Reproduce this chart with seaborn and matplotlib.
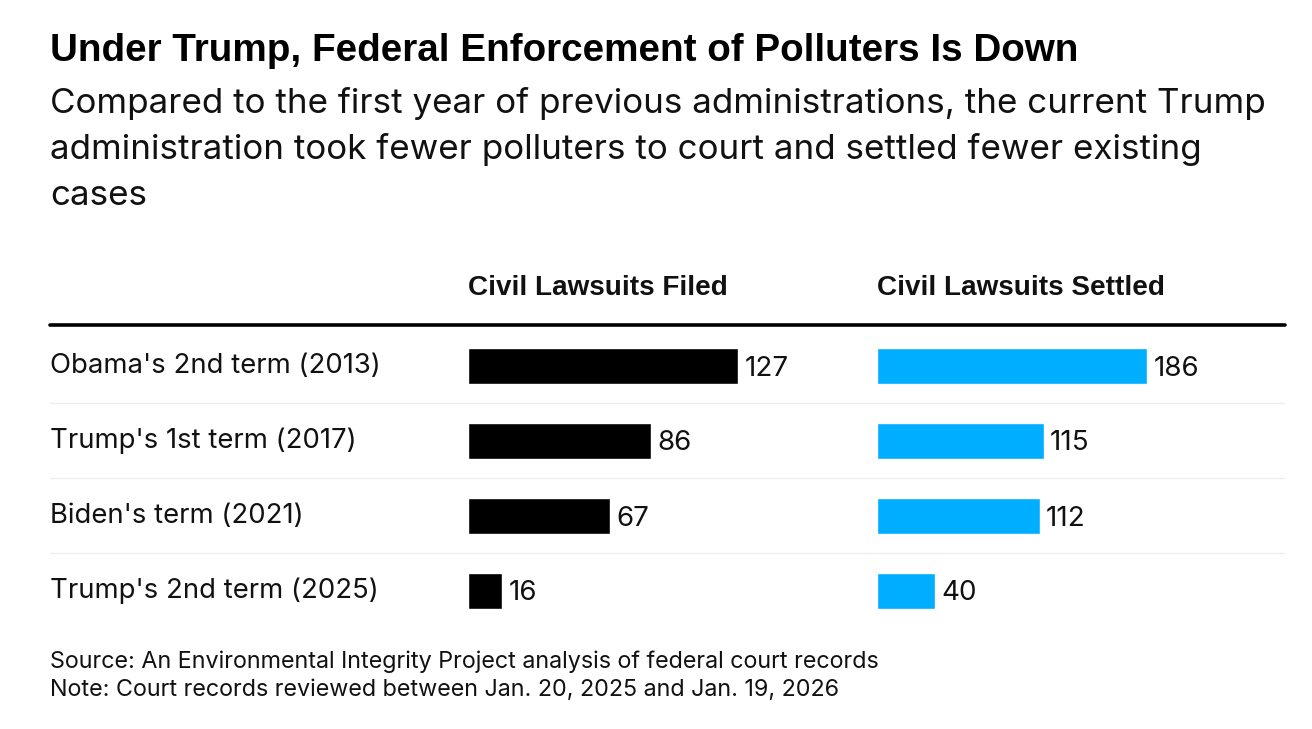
import matplotlib.pyplot as plt
import seaborn as sns
import pandas as pd
from matplotlib.lines import Line2D

# Chart data
terms = ["Obama's 2nd term (2013)", "Trump's 1st term (2017)",
         "Biden's term (2021)", "Trump's 2nd term (2025)"]
filed = [127, 86, 67, 16]
settled = [186, 115, 112, 40]

df = pd.DataFrame({'term': terms, 'filed': filed, 'settled': settled})

sns.set_theme(style='white')
plt.rcParams['font.family'] = ['Inter', 'DejaVu Sans']
BOLD = ['Liberation Sans', 'DejaVu Sans']

W, H = 1312, 729
fig = plt.figure(figsize=(W / 100, H / 100), dpi=100)


def fx(px):
    return px / W


def fy(px):
    return 1 - px / H


rows_top, rows_bot = 328, 628
bar_px = 270  # pixel length of the longest bar in each panel

# background axes for row labels and separators
bg = fig.add_axes([fx(50), fy(rows_bot), fx(1285 - 50), (rows_bot - rows_top) / H])
bg.set_xlim(0, 1)
bg.set_ylim(len(terms) - 0.5, -0.5)
bg.axis('off')
for i in range(len(terms) - 1):
    bg.axhline(i + 0.5, color='#eeeeee', lw=1)
for i, t in enumerate(terms):
    bg.text(0, i + 0.01, t, fontsize=19.8, va='center', ha='left', color='#111111')


def panel(x0, x1, col, color, header):
    ax = fig.add_axes([fx(x0), fy(rows_bot), fx(x1 - x0), (rows_bot - rows_top) / H])
    ax.patch.set_alpha(0)
    sns.barplot(data=df, x=col, y='term', color=color, width=0.48,
                saturation=1, ax=ax, orient='h')
    vmax = df[col].max()
    ax.set_xlim(0, vmax * (x1 - x0) / bar_px)
    ax.set_ylim(len(terms) - 0.5, -0.5)
    ax.axis('off')
    for i, v in enumerate(df[col]):
        ax.annotate(str(v), (v, i + 0.04), xytext=(4.5, 0), textcoords='offset points',
                    va='center', ha='left', fontsize=20, color='#111111')
    fig.text(fx(x0), fy(295), header, fontsize=20.1, fontweight='bold', family=BOLD,
             va='baseline', ha='left', color='#111111')


panel(468, 860, 'filed', 'black', 'Civil Lawsuits Filed')
panel(877, 1285, 'settled', '#00aeff', 'Civil Lawsuits Settled')

# thick rule under headers
fig.add_artist(Line2D([fx(50), fx(1285)], [fy(325), fy(325)], color='black', lw=2.6))

# titles
fig.text(fx(50), fy(61), 'Under Trump, Federal Enforcement of Polluters Is Down',
         fontsize=27.8, fontweight='bold', family=BOLD, va='baseline', ha='left', color='black')
subtitle = ['Compared to the first year of previous administrations, the current Trump',
            'administration took fewer polluters to court and settled fewer existing',
            'cases']
for k, line in enumerate(subtitle):
    fig.text(fx(50), fy(113 + 46 * k), line, fontsize=25.2, va='baseline',
             ha='left', color='#111111')

fig.text(fx(50), fy(668), 'Source: An Environmental Integrity Project analysis of federal court records',
         fontsize=16.8, va='baseline', ha='left', color='#111111')
fig.text(fx(50), fy(696), 'Note: Court records reviewed between Jan. 20, 2025 and Jan. 19, 2026',
         fontsize=16.8, va='baseline', ha='left', color='#111111')

fig.savefig('out.png', dpi=100, facecolor='white')
